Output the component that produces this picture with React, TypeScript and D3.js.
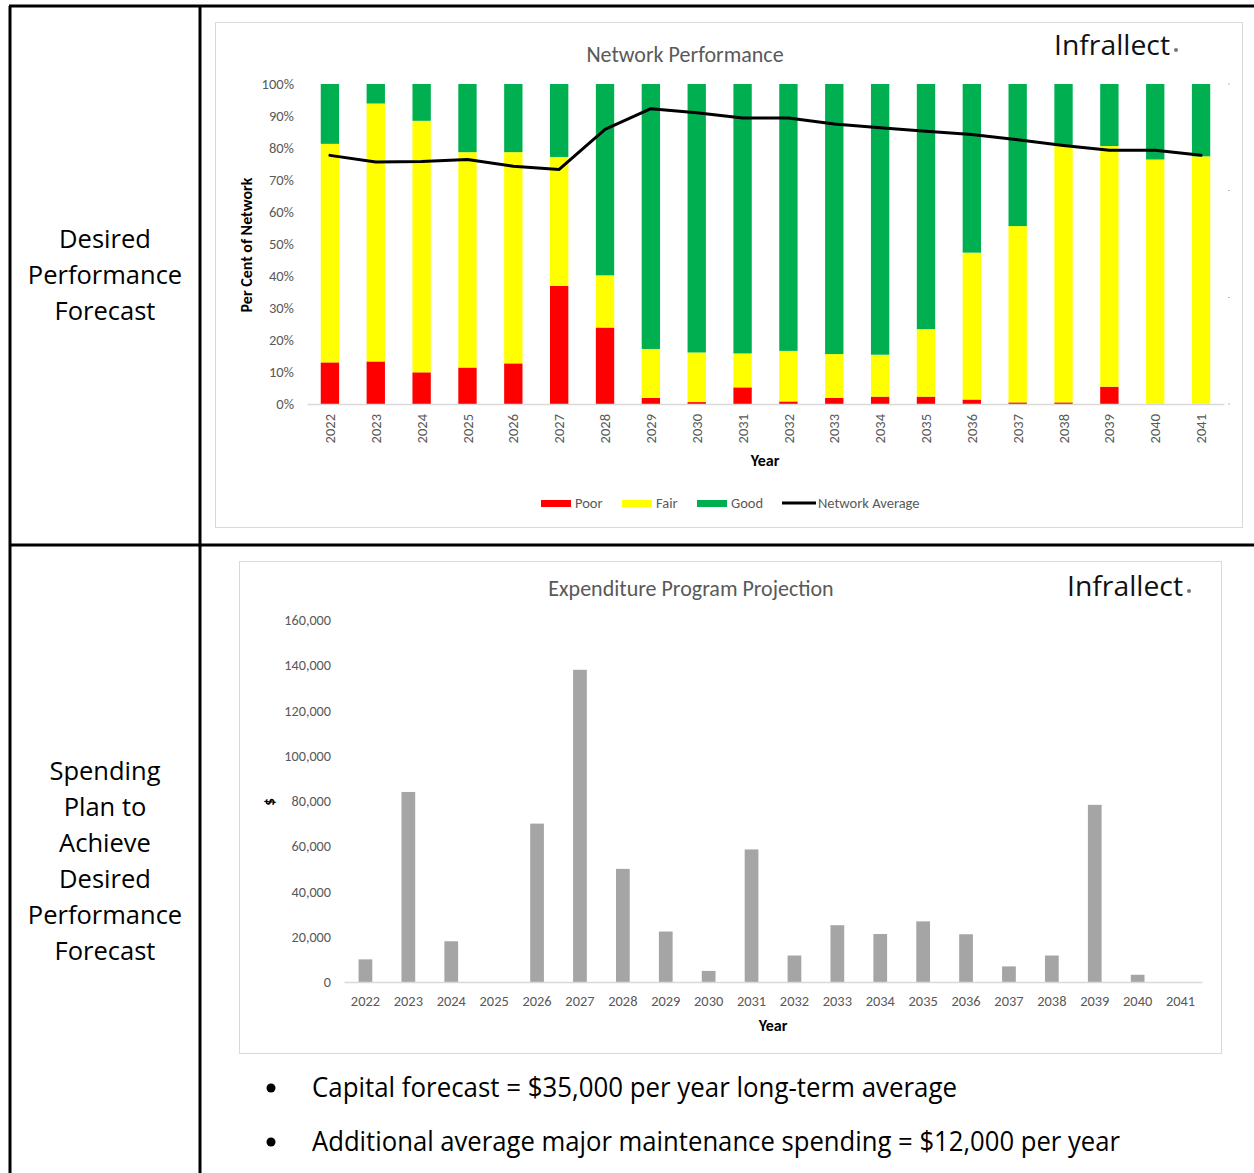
import * as d3 from "d3";
import { useEffect, useRef } from "react";

const years = [
  "2022", "2023", "2024", "2025", "2026", "2027", "2028", "2029", "2030", "2031",
  "2032", "2033", "2034", "2035", "2036", "2037", "2038", "2039", "2040", "2041",
];

// per cent of network in each condition
const poor = [13.0, 13.3, 9.9, 11.4, 12.7, 36.9, 23.9, 1.9, 0.6, 5.2, 0.8, 1.9, 2.3, 2.3, 1.4, 0.5, 0.5, 5.4, 0, 0];
const fair = [68.3, 80.6, 78.6, 67.3, 66.0, 40.3, 16.3, 15.3, 15.5, 10.6, 15.8, 13.7, 13.1, 21.1, 45.9, 55.1, 80.1, 75.2, 76.4, 77.4];
const good = [18.7, 6.1, 11.5, 21.3, 21.3, 22.8, 59.8, 82.8, 83.9, 84.2, 83.4, 84.4, 84.6, 76.6, 52.7, 44.4, 19.4, 19.4, 23.6, 22.6];
const networkAverage = [77.7, 75.6, 75.8, 76.4, 74.3, 73.3, 85.8, 92.3, 91.0, 89.4, 89.4, 87.5, 86.3, 85.2, 84.2, 82.6, 80.8, 79.3, 79.3, 77.7];
const percentTicks = [0, 10, 20, 30, 40, 50, 60, 70, 80, 90, 100];

const conditionKeys = ["Poor", "Fair", "Good"];
const conditionColors = ["#ff0000", "#ffff00", "#00b050"];

// capital expenditure, $
const expenditure = [10000, 84000, 18000, 0, 70000, 138000, 50000, 22300, 4900, 58600, 11700, 25100, 21200, 26800, 21100, 6900, 11700, 78300, 3200, 0];
const dollarTicks = [0, 20000, 40000, 60000, 80000, 100000, 120000, 140000, 160000];

const topRowLabel = ["Desired", "Performance", "Forecast"];
const bottomRowLabel = ["Spending", "Plan to", "Achieve", "Desired", "Performance", "Forecast"];
const notes = [
  "Capital forecast = $35,000 per year long-term average",
  "Additional average major maintenance spending = $12,000 per year",
];

const FONT = "Carlito, Calibri, 'Open Sans', sans-serif";
const GREY = "#595959";

export default function App() {
  const ref = useRef<SVGSVGElement | null>(null);

  useEffect(() => {
    if (!ref.current) return;
    const svg = d3.select(ref.current);
    svg.selectAll("*").remove();
    svg.style("font-family", FONT);

    // ---- table frame
    const frame = svg.append("g").attr("stroke", "#000").attr("stroke-width", 3);
    frame.append("line").attr("x1", 9).attr("x2", 1254).attr("y1", 6).attr("y2", 6);
    frame.append("line").attr("x1", 10).attr("x2", 10).attr("y1", 6).attr("y2", 1173);
    frame.append("line").attr("x1", 200).attr("x2", 200).attr("y1", 6).attr("y2", 1173);
    frame.append("line").attr("x1", 9).attr("x2", 1254).attr("y1", 545).attr("y2", 545);

    const rowText = (lines: string[], y0: number) => {
      svg.append("g")
        .selectAll("text")
        .data(lines)
        .join("text")
        .attr("x", 105)
        .attr("y", (_, i) => y0 + i * 36)
        .attr("text-anchor", "middle")
        .style("font-size", "25.5px")
        .style("font-family", "'Open Sans', sans-serif")
        .attr("fill", "#000")
        .text((d) => d);
    };
    rowText(topRowLabel, 248);
    rowText(bottomRowLabel, 780);

    const logo = (x: number, y: number) => {
      const g = svg.append("g");
      g.append("text")
        .attr("x", x)
        .attr("y", y)
        .attr("textLength", 116)
        .attr("lengthAdjust", "spacingAndGlyphs")
        .style("font-size", "28px")
        .style("font-family", "'Open Sans', sans-serif")
        .attr("fill", "#111")
        .text("Infrallect");
      g.append("circle").attr("cx", x + 122).attr("cy", y - 5).attr("r", 2).attr("fill", "#777");
    };

    // ================= Network Performance =================
    svg.append("rect")
      .attr("x", 215.5).attr("y", 22.5).attr("width", 1027).attr("height", 505)
      .attr("fill", "#fff").attr("stroke", "#d9d9d9");

    svg.append("text")
      .attr("x", 685).attr("y", 62)
      .attr("text-anchor", "middle")
      .attr("fill", GREY)
      .style("font-size", "22px")
      .text("Network Performance");
    logo(1054, 55);

    const x0 = d3.scaleBand<string>().domain(years).range([307, 1224]).paddingInner(0.6).paddingOuter(0.3);
    const y0 = d3.scaleLinear().domain([0, 100]).range([404, 84]);

    const table = years.map((year, i) => ({ year, Poor: poor[i], Fair: fair[i], Good: good[i] }));
    const stacked = d3.stack<any>().keys(conditionKeys)(table);
    const color = d3.scaleOrdinal<string>().domain(conditionKeys).range(conditionColors);

    svg.append("g")
      .selectAll("g")
      .data(stacked)
      .join("g")
      .attr("fill", (d) => color(d.key))
      .selectAll("rect")
      .data((d) => d)
      .join("rect")
      .attr("x", (d: any) => x0(d.data.year)!)
      .attr("y", (d) => y0(d[1]))
      .attr("width", x0.bandwidth())
      .attr("height", (d) => y0(d[0]) - y0(d[1]));

    // y axis
    const yAxis = svg.append("g")
      .attr("transform", "translate(297,0)")
      .call(d3.axisLeft(y0).tickValues(percentTicks).tickSize(0).tickFormat((d) => `${d}%`));
    yAxis.select(".domain").remove();
    yAxis.selectAll("text").attr("fill", GREY).style("font-size", "14.5px").style("font-family", FONT);

    // x axis
    const xAxis = svg.append("g")
      .attr("transform", "translate(0,404)")
      .call(d3.axisBottom(x0).tickSize(0));
    xAxis.select(".domain").attr("stroke", "#d9d9d9").attr("stroke-width", 1.5);
    xAxis.selectAll("text")
      .attr("transform", "rotate(-90)")
      .attr("x", -10)
      .attr("y", 0)
      .attr("dy", "0.35em")
      .attr("text-anchor", "end")
      .attr("fill", GREY)
      .style("font-size", "14.5px")
      .style("font-family", FONT);

    // right hand hidden axis marks
    svg.append("g")
      .selectAll("rect")
      .data([0, 33.3, 66.7, 100])
      .join("rect")
      .attr("x", 1228).attr("y", (d) => y0(d) - 0.5)
      .attr("width", 2).attr("height", 1)
      .attr("fill", "#bbb");

    // network average line
    const line = d3.line<number>()
      .x((_, i) => x0(years[i])! + x0.bandwidth() / 2)
      .y((d) => y0(d));
    svg.append("path")
      .datum(networkAverage)
      .attr("d", line)
      .attr("fill", "none")
      .attr("stroke", "#000")
      .attr("stroke-width", 3)
      .attr("stroke-linejoin", "round")
      .attr("stroke-linecap", "round");

    svg.append("text")
      .attr("transform", "translate(252,245) rotate(-90)")
      .attr("text-anchor", "middle")
      .attr("font-weight", "bold")
      .attr("fill", "#000")
      .style("font-size", "16px")
      .text("Per Cent of Network");

    svg.append("text")
      .attr("x", 765).attr("y", 466)
      .attr("text-anchor", "middle")
      .attr("font-weight", "bold")
      .attr("fill", "#000")
      .style("font-size", "16px")
      .text("Year");

    // legend
    const legendX = [541, 622, 697];
    const legend = svg.append("g");
    conditionKeys.forEach((k, i) => {
      legend.append("rect").attr("x", legendX[i]).attr("y", 500).attr("width", 30).attr("height", 7).attr("fill", color(k));
      legend.append("text").attr("x", legendX[i] + 34).attr("y", 508).attr("fill", GREY).style("font-size", "14.5px").text(k);
    });
    legend.append("line").attr("x1", 782).attr("x2", 816).attr("y1", 503).attr("y2", 503).attr("stroke", "#000").attr("stroke-width", 3);
    legend.append("text").attr("x", 818).attr("y", 508).attr("fill", GREY).style("font-size", "14.5px").text("Network Average");

    // ================= Expenditure Program Projection =================
    svg.append("rect")
      .attr("x", 239.5).attr("y", 561.5).attr("width", 982).attr("height", 492)
      .attr("fill", "#fff").attr("stroke", "#d9d9d9");

    svg.append("text")
      .attr("x", 691).attr("y", 596)
      .attr("text-anchor", "middle")
      .attr("fill", GREY)
      .style("font-size", "22px")
      .text("Expenditure Program Projection");
    logo(1067, 596);

    const x1 = d3.scaleBand<string>().domain(years).range([344, 1202]).paddingInner(0.68).paddingOuter(0.34);
    const y1 = d3.scaleLinear().domain([0, 160000]).range([982, 620]);

    svg.append("g")
      .selectAll("rect")
      .data(expenditure)
      .join("rect")
      .attr("x", (_, i) => x1(years[i])!)
      .attr("y", (d) => y1(d))
      .attr("width", x1.bandwidth())
      .attr("height", (d) => y1(0) - y1(d))
      .attr("fill", "#a5a5a5");

    const yAxis2 = svg.append("g")
      .attr("transform", "translate(334,0)")
      .call(d3.axisLeft(y1).tickValues(dollarTicks).tickSize(0).tickFormat(d3.format(",")));
    yAxis2.select(".domain").remove();
    yAxis2.selectAll("text").attr("fill", GREY).style("font-size", "14.2px").style("font-family", FONT);

    const xAxis2 = svg.append("g")
      .attr("transform", "translate(0,982)")
      .call(d3.axisBottom(x1).tickSize(0));
    xAxis2.select(".domain").attr("stroke", "#d9d9d9").attr("stroke-width", 1.5);
    xAxis2.selectAll("text")
      .attr("y", 19)
      .attr("dy", "0.35em")
      .attr("fill", GREY)
      .style("font-size", "14.4px")
      .style("font-family", FONT);

    svg.append("text")
      .attr("transform", "translate(275,802) rotate(-90)")
      .attr("text-anchor", "middle")
      .attr("font-weight", "bold")
      .attr("fill", "#000")
      .style("font-size", "15px")
      .text("$");

    svg.append("text")
      .attr("x", 773).attr("y", 1031)
      .attr("text-anchor", "middle")
      .attr("font-weight", "bold")
      .attr("fill", "#000")
      .style("font-size", "16px")
      .text("Year");

    // notes
    const noteWidths = [645, 808];
    const noteG = svg.append("g");
    notes.forEach((n, i) => {
      const y = 1088 + i * 54;
      noteG.append("circle").attr("cx", 271).attr("cy", y).attr("r", 4.5).attr("fill", "#000");
      noteG.append("text")
        .attr("x", 312).attr("y", y + 9)
        .attr("textLength", noteWidths[i])
        .attr("lengthAdjust", "spacingAndGlyphs")
        .attr("fill", "#000")
        .style("font-size", "27px")
        .style("font-family", "'Open Sans', sans-serif")
        .text(n);
    });
  }, []);

  return (
    <svg
      ref={ref}
      width={1254}
      height={1173}
      style={{ position: "absolute", left: 0, top: 0, background: "#fff" }}
    ></svg>
  );
}
